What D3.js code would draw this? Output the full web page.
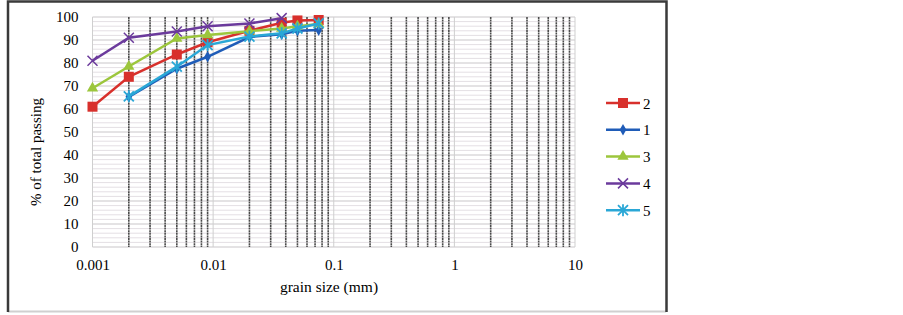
<!DOCTYPE html>
<html>
<head>
<meta charset="utf-8">
<script src="https://cdn.jsdelivr.net/npm/d3@7"></script>
<style>
  body { margin: 0; background: #fff; }
  svg text { font-family: "Liberation Serif", "Times New Roman", serif; fill: #000; }
</style>
</head>
<body>
<svg class="chart" width="903" height="315"></svg>
<script>
// grain sizes (mm) of the readings
let sizes = [0.001, 0.002, 0.005, 0.009, 0.02, 0.037, 0.05, 0.075];

// % passing per sample, null where there is no reading
let s2 = [61, 74, 83.7, 89, 94, 97.5, 98.5, 98.7];
let s1 = [null, 65.3, 77.5, 82.7, 91.3, 92.5, 94, 94.3];
let s3 = [69, 78.5, 90.7, 92.2, 93.8, 95, 96, 97];
let s4 = [81, 91, 93.7, 96, 97.2, 99.5, null, null];
let s5 = [null, 65.5, 78.4, 87.8, 91.5, 92.9, 95, 97.2];

let seriesNames = ['2', '1', '3', '4', '5'];
let seriesValues = [s2, s1, s3, s4, s5];
let colors = ['#d8302c', '#1f5cb8', '#9cc63c', '#6b3a9c', '#2aa7d6'];
let shapes = ['square', 'diamond', 'triangle', 'cross', 'star'];

let xTicks = [0.001, 0.01, 0.1, 1, 10];
let yTicks = d3.range(0, 101, 10);

let svg = d3.select('.chart');
let margin = { top: 17, bottom: 68, left: 92.5, right: 328 };
let width = 903, height = 315;

// outer frame
svg.append('line').attr('x1', 8).attr('x2', 666).attr('y1', 311.5).attr('y2', 311.5)
    .style('stroke', '#d0d0d0').style('stroke-width', 2);
svg.append('path').attr('d', 'M8,312 V1.5 H666.5 V312')
    .style('fill', 'none').style('stroke', '#3a3a3a').style('stroke-width', 2.5);

let xscale = d3.scaleLog().domain([0.001, 10]).range([0, width - margin.left - margin.right]);
let yscale = d3.scaleLinear().domain([0, 100]).range([height - margin.top - margin.bottom, 0]);

let g = svg.append('g').attr('transform', `translate(${margin.left},${margin.top})`);
let plotW = xscale.range()[1], plotH = yscale.range()[0];

// minor horizontal grid
g.append('g').selectAll('line')
    .data(d3.range(0, 101, 2).filter(v => v % 10 != 0))
    .join('line')
    .attr('x1', 0).attr('x2', plotW)
    .attr('y1', d => yscale(d)).attr('y2', d => yscale(d))
    .style('stroke', '#e4dfe4').style('stroke-width', 1);

// major horizontal grid
g.append('g').selectAll('line')
    .data(yTicks)
    .join('line')
    .attr('x1', 0).attr('x2', plotW)
    .attr('y1', d => yscale(d)).attr('y2', d => yscale(d))
    .style('stroke', '#c9c6c9').style('stroke-width', 1);

// decade lines
g.append('g').selectAll('line')
    .data(xTicks)
    .join('line')
    .attr('x1', d => xscale(d)).attr('x2', d => xscale(d))
    .attr('y1', 0).attr('y2', plotH)
    .style('stroke', '#cfcfcf').style('stroke-width', 1);

// dark minor vertical lines (2..9 of each decade)
let minorX = [];
xTicks.slice(0, -1).forEach(dec => {
    d3.range(2, 10).forEach(k => minorX.push(dec * k));
});
g.append('g').selectAll('line')
    .data(minorX)
    .join('line')
    .attr('x1', d => xscale(d)).attr('x2', d => xscale(d))
    .attr('y1', 0).attr('y2', plotH)
    .style('stroke', '#4a4a4a').style('stroke-width', 1.6)
    .style('stroke-dasharray', '2,0.6');

// axes (labels only)
let xAxis = d3.axisBottom(xscale).tickValues(xTicks).tickFormat(d => String(d)).tickSize(0).tickPadding(12);
let yAxis = d3.axisLeft(yscale).tickValues(yTicks).tickSize(0).tickPadding(14);

g.append('g').classed('xAxis', true).attr('transform', `translate(0,${plotH})`).call(xAxis);
g.append('g').classed('yAxis', true).call(yAxis);
g.selectAll('.domain').remove();
g.selectAll('.tick text').style('font-size', '15px').style('font-family', '"Liberation Serif", serif');

// axis titles
svg.append('text').attr('x', 329).attr('y', 292).attr('text-anchor', 'middle')
    .style('font-size', '15.5px').text('grain size (mm)');
svg.append('text').attr('transform', 'translate(41,152)rotate(-90)').attr('text-anchor', 'middle')
    .style('font-size', '15px').text('% of total passing');

// marker drawing
function marker(sel, shape, color, size) {
    if (shape == 'square') {
        sel.append('rect').attr('x', -size / 2).attr('y', -size / 2).attr('width', size).attr('height', size)
            .style('fill', color);
    } else if (shape == 'diamond') {
        sel.append('path').attr('d', d3.symbol(d3.symbolDiamond, size * size * 0.6)())
            .style('fill', color);
    } else if (shape == 'triangle') {
        sel.append('path').attr('d', d3.symbol(d3.symbolTriangle, size * size * 0.55)())
            .style('fill', color);
    } else if (shape == 'cross') {
        let r = size / 2;
        sel.append('path').attr('d', `M${-r},${-r}L${r},${r}M${-r},${r}L${r},${-r}`)
            .style('stroke', color).style('stroke-width', 1.5).style('fill', 'none');
    } else if (shape == 'star') {
        let r = size / 2;
        sel.append('path').attr('d', `M${-r},${-r}L${r},${r}M${-r},${r}L${r},${-r}M0,${-r * 1.2}L0,${r * 1.2}`)
            .style('stroke', color).style('stroke-width', 1.8).style('fill', 'none');
    }
}

let line = d3.line()
    .defined(d => d.v != null)
    .x(d => xscale(d.x))
    .y(d => yscale(d.v));

let markerSize = [10, 8, 10, 10, 10];

seriesValues.forEach((vals, i) => {
    let pts = sizes.map((x, j) => ({ x: x, v: vals[j] }));
    let sg = g.append('g').attr('class', `series${seriesNames[i]}`);
    sg.append('path').datum(pts)
        .attr('d', line)
        .style('fill', 'none').style('stroke', colors[i]).style('stroke-width', 2.5);
    pts.filter(d => d.v != null).forEach(d => {
        let m = sg.append('g').attr('transform', `translate(${xscale(d.x)},${yscale(d.v)})`);
        marker(m, shapes[i], colors[i], markerSize[i]);
    });
});

// legend
let legend = svg.append('g').attr('transform', 'translate(606,103)');
seriesNames.forEach((name, i) => {
    let lg = legend.append('g').attr('transform', `translate(0,${i * 26.8})`);
    lg.append('line').attr('x1', 0).attr('x2', 34).attr('y1', 0).attr('y2', 0)
        .style('stroke', colors[i]).style('stroke-width', 2.5);
    let m = lg.append('g').attr('transform', 'translate(17,0)');
    marker(m, shapes[i], colors[i], markerSize[i]);
    lg.append('text').attr('x', 37).attr('y', 5.5).style('font-size', '15px').text(name);
});
</script>
</body>
</html>
